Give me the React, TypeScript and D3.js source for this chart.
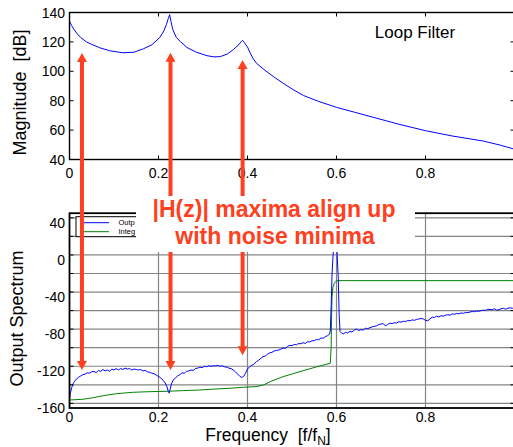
import React from 'react';
import * as d3 from 'd3';

// axis ticks
const freqTicks = [0, 0.2, 0.4, 0.6, 0.8];
const magTicks = [40, 60, 80, 100, 120, 140];
const specTicks = [-160, -120, -80, -40, 0, 40];
const specGrid = [-155, -135, -115, -95, -75, -55, -35, -15, 5, 25, 45];

// loop filter magnitude [f, dB]
const loopFilter: [number, number][] = [
  [0, 134], [0.005, 131], [0.01, 128.5], [0.016, 126], [0.025, 123], [0.038, 120],
  [0.05, 118.3], [0.068, 116], [0.09, 114], [0.12, 112.6], [0.145, 113], [0.166, 115.3],
  [0.185, 118], [0.203, 123], [0.212, 127.5], [0.218, 132], [0.222, 136], [0.225, 138.5],
  [0.228, 134], [0.232, 128.5], [0.24, 123], [0.25, 120], [0.264, 116.2], [0.285, 113],
  [0.309, 110.6], [0.325, 109.8], [0.339, 110], [0.355, 111.8], [0.369, 115], [0.38, 118],
  [0.386, 120.3], [0.389, 121], [0.393, 119.5], [0.4, 116.5], [0.406, 112.5], [0.413, 108.5],
  [0.42, 105.5], [0.437, 101.2], [0.46, 96], [0.482, 91.5], [0.5, 88], [0.526, 83.5],
  [0.56, 79.5], [0.6, 75.5], [0.64, 72.2], [0.684, 68.6], [0.74, 64], [0.8, 59.6],
  [0.86, 56], [0.931, 52.5], [0.97, 49.6], [1.0, 47],
];

// output spectrum [f, dB]
const outputSpectrum: [number, number][] = [
  [0, -151], [0.002, -144], [0.005, -138], [0.008, -134], [0.011, -131.5], [0.015, -129],
  [0.02, -127], [0.025, -125.5], [0.03, -124], [0.035, -123.5], [0.04, -122], [0.045, -122.5],
  [0.05, -121], [0.055, -120.5], [0.06, -122], [0.065, -119.5], [0.07, -120.5], [0.075, -118.5],
  [0.08, -120], [0.085, -119], [0.09, -120.5], [0.095, -118], [0.1, -119], [0.105, -117.5],
  [0.11, -119], [0.115, -117.5], [0.12, -118.5], [0.125, -117], [0.13, -118], [0.135, -117.5],
  [0.14, -119], [0.145, -118], [0.15, -118.5], [0.155, -119], [0.16, -118.5], [0.165, -120],
  [0.17, -119.5], [0.175, -121], [0.18, -121.5], [0.185, -122.5], [0.19, -123], [0.195, -124.5],
  [0.2, -126], [0.205, -127.5], [0.21, -130], [0.215, -133], [0.219, -137], [0.222, -142],
  [0.224, -144], [0.226, -140], [0.229, -134], [0.233, -130], [0.238, -127.5], [0.243, -125.5],
  [0.248, -124], [0.253, -122], [0.258, -122.5], [0.263, -120.5], [0.268, -120], [0.273, -119],
  [0.278, -119.5], [0.283, -117.5], [0.288, -117], [0.293, -116], [0.298, -116.5], [0.303, -115],
  [0.308, -115.5], [0.313, -114.5], [0.318, -115], [0.323, -114.5], [0.328, -114.5], [0.333, -114],
  [0.338, -115], [0.343, -114.5], [0.348, -115.5], [0.353, -116], [0.358, -117], [0.363, -117.5],
  [0.368, -119], [0.373, -121], [0.378, -123.5], [0.383, -126], [0.387, -127], [0.391, -126],
  [0.395, -123], [0.4, -118], [0.405, -115.5], [0.41, -114], [0.415, -112.5], [0.42, -110],
  [0.425, -108.5], [0.43, -106.5], [0.435, -104.5], [0.44, -104], [0.445, -102], [0.45, -100.5],
  [0.455, -100], [0.46, -98.5], [0.465, -98], [0.47, -97.5], [0.475, -96.5], [0.48, -95.5],
  [0.485, -95.8], [0.49, -93.5], [0.495, -92.5], [0.5, -92.8], [0.505, -91.5], [0.51, -91.8],
  [0.515, -90.5], [0.52, -90.8], [0.525, -89.5], [0.53, -90.5], [0.535, -88.5], [0.54, -88.8],
  [0.545, -87.5], [0.55, -87.5], [0.555, -86], [0.56, -86.5], [0.565, -84.5], [0.57, -84.8],
  [0.575, -83], [0.58, -82], [0.584, -80.5], [0.586, -77], [0.588, -50], [0.59, -15],
  [0.593, 10], [0.597, 18], [0.601, 10], [0.604, -20], [0.606, -60], [0.608, -77.5],
  [0.612, -79.5], [0.616, -80], [0.62, -78.5], [0.625, -79], [0.63, -77.5], [0.635, -78],
  [0.64, -76], [0.645, -75], [0.65, -76.5], [0.655, -75.5], [0.66, -76], [0.665, -74],
  [0.67, -74.5], [0.675, -73.5], [0.68, -72.5], [0.685, -72], [0.69, -71.5], [0.695, -70],
  [0.7, -69.5], [0.705, -69], [0.71, -71.5], [0.715, -70], [0.72, -68.5], [0.725, -69],
  [0.73, -68], [0.735, -68.5], [0.74, -67], [0.745, -67.5], [0.75, -66.5], [0.755, -66.8],
  [0.76, -65.8], [0.765, -66], [0.77, -65], [0.775, -65.5], [0.78, -64.5], [0.785, -64],
  [0.79, -63.5], [0.795, -64], [0.8, -65.5], [0.805, -66], [0.81, -64], [0.815, -62],
  [0.82, -62.5], [0.825, -61], [0.83, -62], [0.835, -60.5], [0.84, -61], [0.845, -60],
  [0.85, -59.5], [0.855, -60], [0.86, -58.5], [0.865, -59], [0.87, -58], [0.875, -58.5],
  [0.88, -57.5], [0.885, -58], [0.89, -57], [0.895, -57.2], [0.9, -56.5], [0.905, -56],
  [0.91, -56.2], [0.915, -55.5], [0.92, -55.8], [0.925, -55], [0.93, -54.5], [0.935, -54.8],
  [0.94, -53.5], [0.945, -53.8], [0.95, -54], [0.955, -53], [0.96, -54.5], [0.965, -54],
  [0.97, -53], [0.975, -52.5], [0.98, -53.5], [0.985, -52.5], [0.99, -52], [0.995, -52.5],
  [1.0, -52],
];

// integrated noise [f, dB]
const integratedNoise: [number, number][] = [
  [0, -151.4], [0.03, -150.6], [0.052, -149], [0.075, -146.8], [0.105, -144.6], [0.142, -143.1],
  [0.179, -142.4], [0.217, -142], [0.254, -141.3], [0.292, -140.6], [0.329, -139.5], [0.359, -138.8],
  [0.389, -137.7], [0.419, -137], [0.436, -135.2], [0.451, -131.6], [0.48, -126.2], [0.518, -120.8],
  [0.556, -115.5], [0.586, -111.8], [0.588, -95], [0.589, -60], [0.59, -40], [0.592, -30],
  [0.595, -25.5], [0.599, -23.3], [0.603, -22.7], [1.0, -22.7],
];

// legend entries (cut off by the text box in the original)
const legendLabels = ['Outp', 'Integ'];

// annotation arrows: frequency, tip in top plot [dB], tip in bottom plot [dB]
const arrowFreq = [0.028, 0.227, 0.389];
const arrowTopDb = [112.4, 112.6, 107.7];
const arrowBottomDb = [-119, -119, -103];

const FONT = "Arial, 'Liberation Sans', Helvetica, sans-serif";
const RED = '#ff4020';

export default function App() {
  const x = d3.scaleLinear().domain([0, 1]).range([69.5, 514.5]);
  const yMag = d3.scaleLinear().domain([40, 140]).range([159.5, 12.5]);
  const ySpec = d3.scaleLinear().domain([-160, 50]).range([408, 213.2]);

  const magLine = d3.line<[number, number]>().x(d => x(d[0])).y(d => yMag(d[1]));
  const specLine = d3.line<[number, number]>().x(d => x(d[0])).y(d => ySpec(d[1]));

  const [x0, x1] = x.range();
  const tk = 4;
  const legendColors = ['#0000ff', '#008000'];

  return (
    <svg width={513} height={447} style={{ position: 'absolute', left: 0, top: 0, background: '#fff' }}
      fontFamily={FONT}>
      <defs>
        <clipPath id="clipTop"><rect x={x0} y={yMag(140)} width={x1 - x0} height={yMag(40) - yMag(140)} /></clipPath>
        <clipPath id="clipBot"><rect x={x0} y={ySpec(50)} width={x1 - x0} height={ySpec(-160) - ySpec(50)} /></clipPath>
      </defs>
      <rect width={513} height={447} fill="#fff" />

      {/* top plot: loop filter */}
      <g>
        <path d={magLine(loopFilter) || ''} fill="none" stroke="#0000ff" strokeWidth={1} clipPath="url(#clipTop)" />
        {magTicks.map(v => (
          <g key={v}>
            <line x1={x0} x2={x0 + tk} y1={yMag(v)} y2={yMag(v)} stroke="#000" />
            <line x1={x1} x2={x1 - tk} y1={yMag(v)} y2={yMag(v)} stroke="#000" />
            <text x={65} y={yMag(v)} dy="0.36em" textAnchor="end" fontSize={14}>{v}</text>
          </g>
        ))}
        {freqTicks.map(v => (
          <g key={v}>
            <line x1={x(v)} x2={x(v)} y1={yMag(40)} y2={yMag(40) - tk} stroke="#000" />
            <line x1={x(v)} x2={x(v)} y1={yMag(140)} y2={yMag(140) + tk} stroke="#000" />
            <text x={x(v)} y={173} dy="0.36em" textAnchor="middle" fontSize={14}>{v}</text>
          </g>
        ))}
        <rect x={x0} y={yMag(140)} width={x1 - x0} height={yMag(40) - yMag(140)} fill="none" stroke="#000" strokeWidth={1.4} />
        <text x={415} y={32} dy="0.36em" textAnchor="middle" fontSize={17}>Loop Filter</text>
        <text transform="translate(26,92.5) rotate(-90)" textAnchor="middle" fontSize={18}>Magnitude{'\u00a0\u00a0'}[dB]</text>
      </g>

      {/* bottom plot: output spectrum */}
      <g>
        {specGrid.map(v => (
          <line key={v} x1={x0} x2={x1} y1={ySpec(v)} y2={ySpec(v)} stroke="#858585" strokeWidth={1.2} />
        ))}
        {freqTicks.slice(1).map(v => (
          <line key={v} x1={x(v)} x2={x(v)} y1={ySpec(50)} y2={ySpec(-160)} stroke="#858585" strokeWidth={1.2} />
        ))}
        <g clipPath="url(#clipBot)">
          <path d={specLine(integratedNoise) || ''} fill="none" stroke="#008000" strokeWidth={1} />
          <path d={specLine(outputSpectrum) || ''} fill="none" stroke="#0000ff" strokeWidth={1} />
        </g>
        {specGrid.map(v => (
          <g key={v}>
            <line x1={x0} x2={x0 + tk} y1={ySpec(v)} y2={ySpec(v)} stroke="#000" />
            <line x1={x1} x2={x1 - tk} y1={ySpec(v)} y2={ySpec(v)} stroke="#000" />
          </g>
        ))}
        {specTicks.map(v => (
          <text key={v} x={65} y={ySpec(v)} dy="0.36em" textAnchor="end" fontSize={14}>{v}</text>
        ))}
        {freqTicks.map(v => (
          <text key={v} x={x(v)} y={417} dy="0.36em" textAnchor="middle" fontSize={14}>{v}</text>
        ))}
        <rect x={x0} y={ySpec(50)} width={x1 - x0} height={ySpec(-160) - ySpec(50)} fill="none" stroke="#000" strokeWidth={1.8} />
        <text transform="translate(23,318.5) rotate(-90)" textAnchor="middle" fontSize={18}>Output Spectrum</text>
        <text x={268} y={441} textAnchor="middle" fontSize={17.5}>
          Frequency{'\u00a0\u00a0'}[f/f<tspan fontSize={12} dy={4}>N</tspan><tspan dy={-4}>]</tspan>
        </text>

        {/* legend */}
        <rect x={76} y={216.7} width={130} height={20} fill="#fff" stroke="#000" strokeWidth={1} />
        {legendLabels.map((lab, i) => (
          <g key={lab}>
            <line x1={83} x2={109} y1={222.7 + i * 9} y2={222.7 + i * 9} stroke={legendColors[i]} />
            <text x={118.5} y={225.2 + i * 9} fontSize={7.5}>{lab}</text>
          </g>
        ))}
      </g>

      {/* annotation arrows */}
      {arrowFreq.map((f, i) => {
        const ax = x(f);
        const yt = yMag(arrowTopDb[i]);
        const yb = ySpec(arrowBottomDb[i]);
        const hw = 5, hh = 9;
        return (
          <g key={i} fill={RED}>
            <line x1={ax} x2={ax} y1={yt + hh - 1} y2={yb - hh + 1} stroke={RED} strokeWidth={4} />
            <path d={`M${ax},${yt} L${ax - hw},${yt + hh} L${ax + hw},${yt + hh} Z`} />
            <path d={`M${ax},${yb} L${ax - hw},${yb - hh} L${ax + hw},${yb - hh} Z`} />
          </g>
        );
      })}

      {/* text box */}
      <rect x={136} y={196} width={279} height={56} fill="#fff" />
      <g fill={RED} fontWeight="bold" fontSize={23} textAnchor="middle">
        <text x={274} y={216.5}>|H(z)| maxima align up</text>
        <text x={275} y={243.5}>with noise minima</text>
      </g>
    </svg>
  );
}
